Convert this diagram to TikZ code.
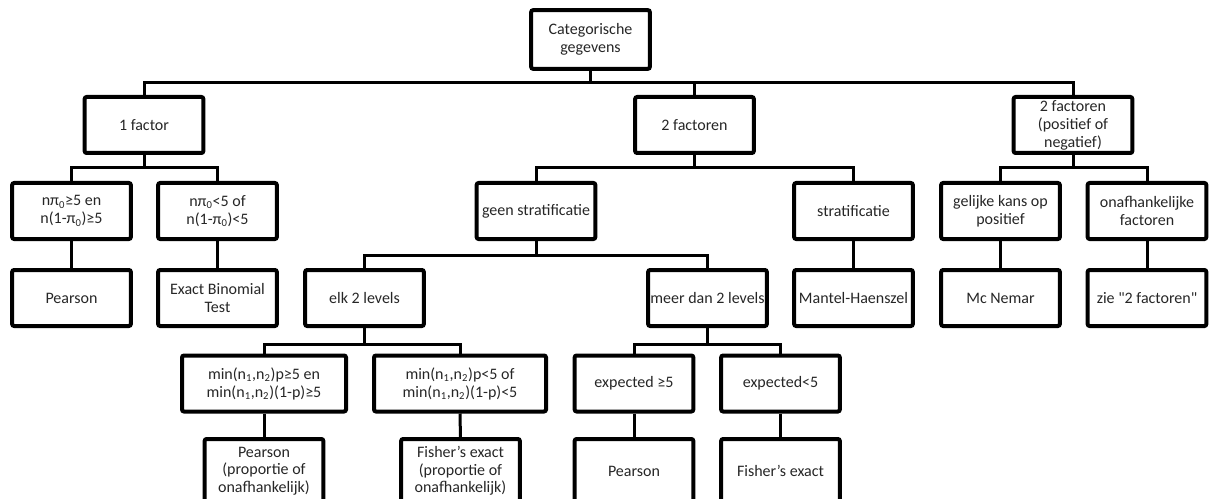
\documentclass[tikz,border=0pt]{standalone}
\usepackage{fontspec}
\setmainfont{Carlito}

\begin{document}
\begin{tikzpicture}[
    x=0.75pt, y=-0.75pt,
    box/.style={draw, line width=3pt, rounded corners=1.5pt, align=center, minimum width=89pt, minimum height=42pt, inner sep=1pt, font=\fontsize{12}{13.5}\selectfont, text=black!85},
    wide/.style={box, minimum width=123pt},
    tall/.style={box, minimum height=48pt, font=\fontsize{12}{13}\selectfont},
    conn/.style={line width=2.25pt}
  ]
    \useasboundingbox (0,0) rectangle (1213,499);
    \clip (0,0) rectangle (1213,499);

    \coordinate (bus1) at (0,83);
    \coordinate (bus2) at (0,168);
    \coordinate (bus3) at (0,255);
    \coordinate (bus4) at (0,344);

    \node[box, minimum height=44pt] (root) at (590.5,39.5) {Categorische\\gegevens};

    \node[box] (f1)  at (144,125)    {1 factor};
    \node[box] (f2)  at (694.5,125)  {2 factoren};
    \node[box] (f2p) at (1073,125)   {2 factoren\\(positief of\\negatief)};

    \node[box] (n1)     at (71.5,211)   {nπ\textsubscript{0}≥5 en\\n(1-π\textsubscript{0})≥5};
    \node[box] (n2)     at (217.5,211)  {nπ\textsubscript{0}<5 of\\n(1-π\textsubscript{0})<5};
    \node[box] (geen)   at (536,211)    {geen stratificatie};
    \node[box] (strat)  at (853.5,211)  {stratificatie};
    \node[box] (gelijk) at (1000.5,211) {gelijke kans op\\positief};
    \node[box] (onafh)  at (1147,211)   {onafhankelijke\\factoren};

    \node[box] (pear1)   at (71.5,298)   {Pearson};
    \node[box] (binom)   at (217.5,298)  {Exact Binomial\\Test};
    \node[box] (elk)     at (364.5,298)  {elk 2 levels};
    \node[box] (meer)    at (707.5,298)  {meer dan 2 levels};
    \node[box] (mantel)  at (853.5,298)  {Mantel-Haenszel};
    \node[box] (mcnemar) at (1000.5,298) {Mc Nemar};
    \node[box] (zie)     at (1147,298)   {zie \textquotedbl 2 factoren\textquotedbl};

    \node[wide] (minA) at (264,383.5) {min(n\textsubscript{1},n\textsubscript{2})p≥5 en\\min(n\textsubscript{1},n\textsubscript{2})(1-p)≥5};
    \node[wide, minimum width=129pt] (minB) at (460,383.5) {min(n\textsubscript{1},n\textsubscript{2})p<5 of\\min(n\textsubscript{1},n\textsubscript{2})(1-p)<5};
    \node[box] (exA) at (634,383.5)   {expected ≥5};
    \node[box] (exB) at (780.5,383.5) {expected<5};

    \node[tall] (pearP) at (264,471)   {Pearson\\(proportie of\\onafhankelijk)};
    \node[tall] (fishP) at (460.5,471) {Fisher's exact\\(proportie of\\onafhankelijk)};
    \node[tall] (pear2) at (634,471)   {Pearson};
    \node[tall] (fish2) at (780.5,471) {Fisher's exact};

    \draw[conn] (root.south) |- (bus1 -| f1) -- (f1.north);
    \draw[conn] (root.south) |- (bus1 -| f2) -- (f2.north);
    \draw[conn] (root.south) |- (bus1 -| f2p) -- (f2p.north);

    \draw[conn] (f1.south) |- (bus2 -| n1) -- (n1.north);
    \draw[conn] (f1.south) |- (bus2 -| n2) -- (n2.north);
    \draw[conn] (f2.south) |- (bus2 -| geen) -- (geen.north);
    \draw[conn] (f2.south) |- (bus2 -| strat) -- (strat.north);
    \draw[conn] (f2p.south) |- (bus2 -| gelijk) -- (gelijk.north);
    \draw[conn] (f2p.south) |- (bus2 -| onafh) -- (onafh.north);

    \draw[conn] (n1) -- (pear1);
    \draw[conn] (n2) -- (binom);
    \draw[conn] (strat) -- (mantel);
    \draw[conn] (gelijk) -- (mcnemar);
    \draw[conn] (onafh) -- (zie);

    \draw[conn] (geen.south) |- (bus3 -| elk) -- (elk.north);
    \draw[conn] (geen.south) |- (bus3 -| meer) -- (meer.north);

    \draw[conn] (elk.south) |- (bus4 -| minA) -- (minA.north);
    \draw[conn] (elk.south) |- (bus4 -| minB) -- (minB.north);
    \draw[conn] (meer.south) |- (bus4 -| exA) -- (exA.north);
    \draw[conn] (meer.south) |- (bus4 -| exB) -- (exB.north);

    \draw[conn] (minA) -- (pearP);
    \draw[conn] (minB) -- (fishP);
    \draw[conn] (exA) -- (pear2);
    \draw[conn] (exB) -- (fish2);
  \end{tikzpicture}
\end{document}
